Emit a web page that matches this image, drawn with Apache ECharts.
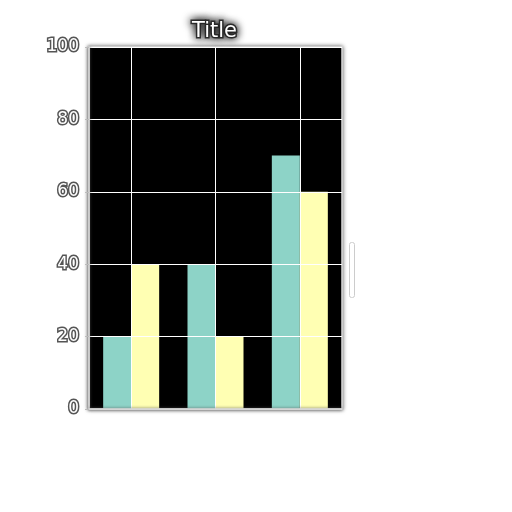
<!DOCTYPE html>
<html><head><meta charset="utf-8">
<script src="https://cdn.jsdelivr.net/npm/echarts@6/dist/echarts.min.js"></script>
<style>html,body{margin:0;padding:0;background:#fff}#c{width:512px;height:512px}</style>
</head><body><div id="c"></div>
<script>
const categories = ['A', 'B', 'C'];
const seriesA = [20, 40, 70];
const seriesB = [40, 20, 60];
const yTicks = [0, 20, 40, 60, 80, 100];

const chart = echarts.init(document.getElementById('c'));
const txt = {color: '#fff', textBorderColor: '#555', textBorderWidth: 3, fontFamily: 'DejaVu Sans'};
chart.setOption({
  backgroundColor: '#fff',
  animation: false,
  title: {text: 'Title', left: 187, top: 16,
    textStyle: Object.assign({}, txt, {fontSize: 21, fontWeight: 'normal', textBorderColor: '#333', textShadowColor: '#000', textShadowBlur: 8})},
  grid: {left: 89, right: 170, top: 47, bottom: 103, show: true, backgroundColor: '#000', borderColor: '#ddd', borderWidth: 1.5,
    shadowColor: 'rgba(0,0,0,0.6)', shadowBlur: 4, z: 0},
  xAxis: {type: 'category', data: categories, boundaryGap: true, z: 5,
    axisLine: {lineStyle: {color: '#ddd', width: 1.5, shadowColor: '#555', shadowBlur: 3}},
    axisTick: {alignWithLabel: true, length: 4, lineStyle: {color: '#bbb'}},
    axisLabel: {show: false},
    splitLine: {show: true, alignWithLabel: true, lineStyle: {color: '#fff', width: 1}}},
  yAxis: {type: 'value', min: yTicks[0], max: yTicks[yTicks.length - 1], interval: 20, z: 5,
    axisLine: {show: true, lineStyle: {color: '#ddd', width: 1.5, shadowColor: '#555', shadowBlur: 3}},
    axisTick: {show: true, length: 4, lineStyle: {color: '#bbb'}},
    axisLabel: Object.assign({}, txt, {fontSize: 17, margin: 10}),
    splitLine: {show: true, lineStyle: {color: '#fff', width: 1}}},
  series: [
    {type: 'bar', data: seriesA, barWidth: 28, barGap: '0%', itemStyle: {color: '#8dd3c7'}, z: 1},
    {type: 'bar', data: seriesB, barWidth: 28, barGap: '0%', itemStyle: {color: '#ffffb3'}, z: 1}
  ],
  graphic: [{type: 'rect', left: 347, top: 240, shape: {width: 5, height: 55, r: 2},
    style: {fill: 'none', stroke: '#ccc', lineWidth: 1}}]
});
</script></body></html>
